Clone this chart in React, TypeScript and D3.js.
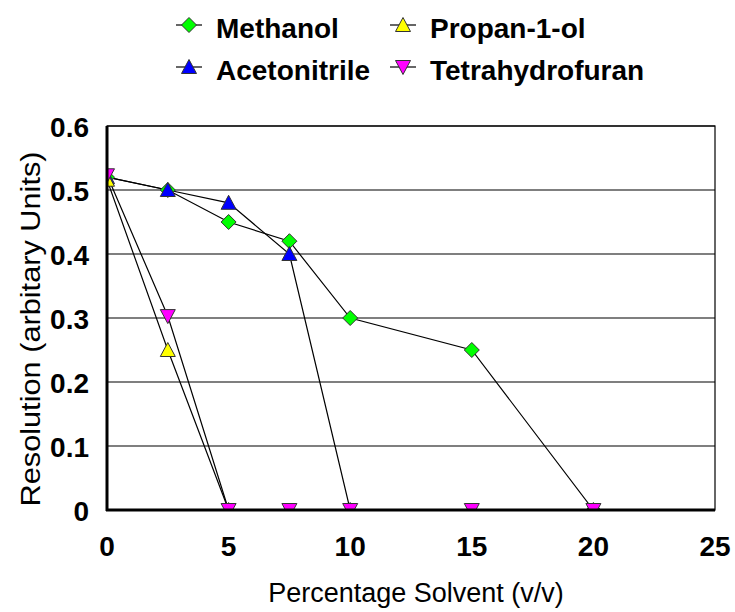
import React from "react";
import * as d3 from "d3";

const xTicks = [0, 5, 10, 15, 20, 25];
const yTicks = [0, 0.1, 0.2, 0.3, 0.4, 0.5, 0.6];

const methanolX = [0, 2.5, 5, 7.5, 10, 15, 20];
const methanolY = [0.52, 0.5, 0.45, 0.42, 0.3, 0.25, 0];
const acetoX = [0, 2.5, 5, 7.5, 10];
const acetoY = [0.52, 0.5, 0.48, 0.4, 0];
const propanX = [0, 2.5, 5];
const propanY = [0.516, 0.25, 0];
const thfX = [0, 2.5, 5, 7.5, 10, 15, 20];
const thfY = [0.523, 0.303, 0, 0, 0, 0, 0];

type Shape = "diamond" | "up" | "down";
const series = [
  { name: "Methanol", xs: methanolX, ys: methanolY, color: "#00ff00", shape: "diamond" as Shape },
  { name: "Acetonitrile", xs: acetoX, ys: acetoY, color: "#0000ff", shape: "up" as Shape },
  { name: "Propan-1-ol", xs: propanX, ys: propanY, color: "#ffff00", shape: "up" as Shape },
  { name: "Tetrahydrofuran", xs: thfX, ys: thfY, color: "#ff00ff", shape: "down" as Shape },
];

function markerPath(shape: Shape, cx: number, cy: number): string {
  const s = 7.5;
  if (shape === "diamond") return `M${cx},${cy - s}L${cx + s},${cy}L${cx},${cy + s}L${cx - s},${cy}Z`;
  if (shape === "up") return `M${cx},${cy - s}L${cx + s},${cy + s - 1}L${cx - s},${cy + s - 1}Z`;
  return `M${cx - s},${cy - s + 1}L${cx + s},${cy - s + 1}L${cx},${cy + s}Z`;
}

export default function App() {
  const W = 735, H = 612;
  const L = 107, R = 715, T = 126, B = 510;
  const x = d3.scaleLinear().domain([0, 25]).range([L, R]);
  const y = d3.scaleLinear().domain([0, 0.6]).range([B, T]);
  const line = d3.line<[number, number]>().x(d => x(d[0])).y(d => y(d[1]));
  const font = "'Liberation Sans', Arial, sans-serif";

  const legendPos = [
    { lx: 189, ly: 25, tx: 216, ty: 38 },
    { lx: 189, ly: 67, tx: 216, ty: 80 },
    { lx: 403, ly: 25, tx: 430, ty: 38 },
    { lx: 403, ly: 67, tx: 430, ty: 80 },
  ];

  return (
    <svg width={W} height={H} style={{ position: "absolute", left: 0, top: 0 }} fontFamily={font}>
      <defs>
        <clipPath id="plotclip">
          <rect x={L} y={T} width={R - L} height={B - T} />
        </clipPath>
      </defs>
      <rect width={W} height={H} fill="#fff" />
      {yTicks.filter(t => t > 0).map(t => (
        <line key={t} x1={L} x2={R} y1={y(t)} y2={y(t)} stroke="#000" strokeWidth={1.2} />
      ))}
      <rect x={L} y={T} width={R - L} height={B - T} fill="none" stroke="#000" strokeWidth={1.2} />
      <g clipPath="url(#plotclip)">
        {series.map(s => (
          <path key={s.name} d={line(s.xs.map((v, i) => [v, s.ys[i]] as [number, number])) || ""}
            fill="none" stroke="#000" strokeWidth={1.2} />
        ))}
        {series.map(s => (
          <g key={s.name + "m"}>
            {s.xs.map((v, i) => (
              <path key={i} d={markerPath(s.shape, x(v), y(s.ys[i]))} fill={s.color} stroke="#333" strokeWidth={1} />
            ))}
          </g>
        ))}
      </g>
      <line x1={L} x2={L} y1={T} y2={B + 1} stroke="#000" strokeWidth={3} />
      <line x1={L - 1} x2={R} y1={B} y2={B} stroke="#000" strokeWidth={3} />
      {yTicks.map(t => (
        <text key={t} x={89} y={y(t) + 11} textAnchor="end" fontSize={28} fontWeight="bold">{t === 0 ? "0" : t.toFixed(1)}</text>
      ))}
      {xTicks.map(t => (
        <text key={t} x={x(t)} y={B + 46} textAnchor="middle" fontSize={28} fontWeight="bold">{t}</text>
      ))}
      <text x={416} y={602} textAnchor="middle" fontSize={27}>Percentage Solvent (v/v)</text>
      <text transform={`translate(40,329) rotate(-90)`} textAnchor="middle" fontSize={27}
        textLength={355} lengthAdjust="spacingAndGlyphs">Resolution (arbitary Units)</text>
      {series.map((s, i) => {
        const p = legendPos[i];
        return (
          <g key={s.name + "l"}>
            <line x1={p.lx - 13} x2={p.lx + 13} y1={p.ly} y2={p.ly} stroke="#000" strokeWidth={1.2} />
            <path d={markerPath(s.shape, p.lx, p.ly)} fill={s.color} stroke="#333" strokeWidth={1} />
            <text x={p.tx} y={p.ty} fontSize={28} fontWeight="bold">{s.name}</text>
          </g>
        );
      })}
    </svg>
  );
}
